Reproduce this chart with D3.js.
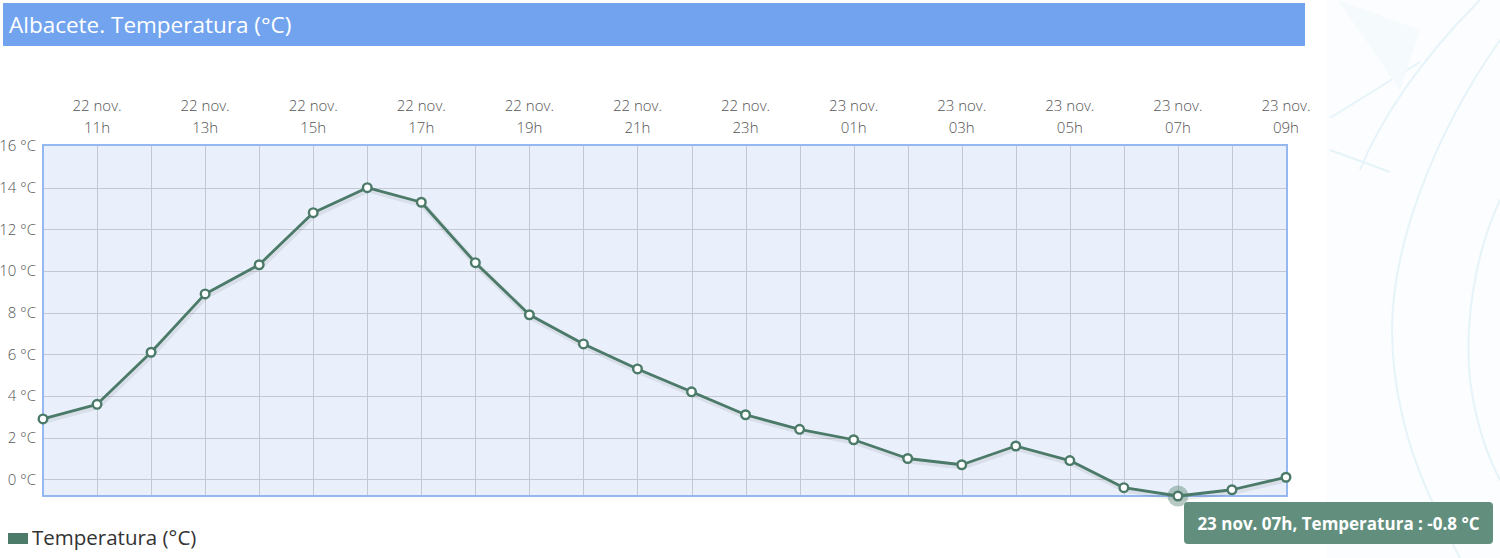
<!DOCTYPE html>
<html><head><meta charset="utf-8">
<script src="https://cdn.jsdelivr.net/npm/d3@7"></script>
<style>html,body{margin:0;padding:0;background:#fff;overflow:hidden}</style>
</head><body>
<svg id="c" width="1500" height="558"></svg>
<script>
const dayLabels = ["22 nov.","22 nov.","22 nov.","22 nov.","22 nov.","22 nov.","22 nov.","22 nov.","22 nov.","22 nov.","22 nov.","22 nov.","22 nov.","22 nov.","23 nov.","23 nov.","23 nov.","23 nov.","23 nov.","23 nov.","23 nov.","23 nov.","23 nov.","23 nov."];
const hourLabels = ["10h","11h","12h","13h","14h","15h","16h","17h","18h","19h","20h","21h","22h","23h","00h","01h","02h","03h","04h","05h","06h","07h","08h","09h"];
const temperatura = [2.9,3.6,6.1,8.9,10.3,12.8,14.0,13.3,10.4,7.9,6.5,5.3,4.2,3.1,2.4,1.9,1.0,0.7,1.6,0.9,-0.4,-0.8,-0.5,0.1];
const yTicks = [0,2,4,6,8,10,12,14,16];
const title = "Albacete. Temperatura (°C)";
const seriesName = "Temperatura (°C)";
const hoverIndex = 21;

const svg = d3.select("#c");
const font = "'Open Sans', sans-serif";
const lineColor = "#4b7a68";

// faint background decoration
const deco = svg.append("g").attr("fill","none").attr("stroke","#dcf0f8").attr("stroke-width",2).attr("opacity",0.7);
deco.append("rect").attr("x",1326).attr("y",0).attr("width",174).attr("height",558).attr("fill","#fbfdfe").attr("stroke","none");
deco.append("path").attr("d","M1500,40 C1430,140 1392,250 1392,330 C1393,430 1430,500 1460,558");
deco.append("path").attr("d","M1500,200 C1472,260 1465,330 1470,380 C1478,440 1495,470 1500,480");
deco.append("path").attr("d","M1480,0 C1420,60 1380,120 1360,170");
deco.append("path").attr("d","M1330,118 L1420,62 M1330,150 L1390,172");
deco.append("path").attr("d","M1338,0 L1420,30 L1400,90 Z").attr("fill","#f1f8fb").attr("stroke","none");

// title bar
svg.append("rect").attr("x",3).attr("y",3).attr("width",1302).attr("height",43).attr("fill","#72a3ee");
svg.append("text").attr("x",9).attr("y",33).attr("fill","#fff").attr("font-family",font).attr("font-size",22.5).text(title);

const x = d3.scaleLinear().domain([0, temperatura.length-1]).range([43, 1286]);
const y = d3.scaleLinear().domain([-0.8, 16]).range([496, 146]);

const L = 43, R = 1287, T = 145, B = 496;
svg.append("rect").attr("x",L).attr("y",T).attr("width",R-L).attr("height",B-T).attr("fill","#e9f0fb");

// grid
const grid = svg.append("g").attr("stroke","#c3c8d2").attr("stroke-width",1);
temperatura.forEach((d,i)=>{ if(i>0 && i<temperatura.length-1) grid.append("line").attr("x1",Math.round(x(i))+0.5).attr("x2",Math.round(x(i))+0.5).attr("y1",T).attr("y2",B); });
yTicks.forEach(t=>{ if(t<16) grid.append("line").attr("x1",L).attr("x2",R).attr("y1",Math.round(y(t))+0.5).attr("y2",Math.round(y(t))+0.5); });

svg.append("rect").attr("x",L).attr("y",T).attr("width",R-L).attr("height",B-T).attr("fill","none").attr("stroke","#94b8ef").attr("stroke-width",2);

// y axis labels
const yAxis = d3.axisLeft(y).tickValues(yTicks).tickSize(0).tickPadding(7).tickFormat(d=>d+" °C");
const ya = svg.append("g").attr("transform",`translate(${L},0)`).call(yAxis);
ya.select(".domain").remove();
ya.selectAll("text").attr("font-family",font).attr("font-size",15).attr("fill","#555").attr("font-weight",300);

// x axis labels (every 2 hours, two lines)
const xg = svg.append("g");
temperatura.forEach((d,i)=>{
  if(i%2===1){
    const t = xg.append("text").attr("x",x(i)).attr("text-anchor","middle").attr("font-family",font).attr("font-size",15).attr("fill","#555").attr("font-weight",300);
    t.append("tspan").attr("x",x(i)).attr("y",111).text(dayLabels[i]);
    t.append("tspan").attr("x",x(i)).attr("y",133).text(hourLabels[i]);
  }
});

// line with shadow
const line = d3.line().x((d,i)=>x(i)).y(d=>y(d));
svg.append("path").datum(temperatura).attr("d",line).attr("fill","none").attr("stroke","#000").attr("stroke-opacity",0.07).attr("stroke-width",6).attr("transform","translate(1,2)");
svg.append("path").datum(temperatura).attr("d",line).attr("fill","none").attr("stroke",lineColor).attr("stroke-width",2.8).attr("stroke-linejoin","round");

// hover halo
svg.append("circle").attr("cx",x(hoverIndex)).attr("cy",y(temperatura[hoverIndex])).attr("r",10.5).attr("fill",lineColor).attr("fill-opacity",0.4);

svg.append("g").selectAll("circle").data(temperatura).join("circle")
  .attr("cx",(d,i)=>x(i)).attr("cy",d=>y(d)).attr("r",4.3)
  .attr("fill","#fff").attr("stroke",lineColor).attr("stroke-width",2.4);

// tooltip
const tip = svg.append("g");
tip.append("rect").attr("x",1184).attr("y",502).attr("width",309).attr("height",42).attr("rx",4).attr("fill","#628f7d");
tip.append("text").attr("x",1338.5).attr("y",529.5).attr("text-anchor","middle").attr("font-family",font).attr("font-size",17).attr("font-weight",700).attr("fill","#fff")
  .text(`23 nov. ${hourLabels[hoverIndex]}, Temperatura : ${temperatura[hoverIndex]} °C`);

// legend
svg.append("rect").attr("x",8).attr("y",533).attr("width",20).attr("height",11).attr("fill","#4c7b69");
svg.append("text").attr("x",32).attr("y",545).attr("font-family",font).attr("font-size",20.5).attr("fill","#333").text(seriesName);
</script>
</body></html>
